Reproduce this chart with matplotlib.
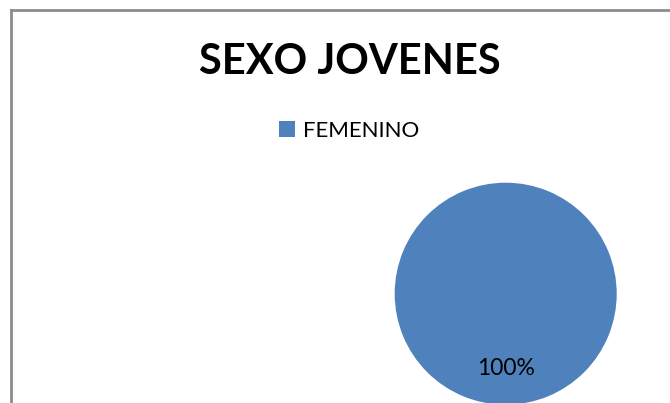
import matplotlib.pyplot as plt
from matplotlib.lines import Line2D

categories = ['FEMENINO']
values = [100]
colors = ['#4F81BD']
title = 'SEXO JOVENES'

W, H = 670, 403
fig = plt.figure(figsize=(W / 100, H / 100), dpi=100)
ax = fig.add_axes([0, 0, 1, 1])

wedges, texts, autotexts = ax.pie(values, colors=colors, radius=111,
                                  center=(505.7, H - 293.7), startangle=90,
                                  autopct='%1.0f%%', pctdistance=0.67,
                                  frame=True, wedgeprops={'linewidth': 0},
                                  textprops={'fontsize': 16.5, 'family': 'Lato'})
ax.set_xlim(0, W)
ax.set_ylim(0, H)
ax.axis('off')

# chart border (left and top only visible)
border = '#8c8c8c'
fig.add_artist(Line2D([11 / W, 11 / W], [0, 1 - 10 / H], color=border, lw=2,
                      transform=fig.transFigure))
fig.add_artist(Line2D([11 / W, 1], [1 - 10 / H, 1 - 10 / H], color=border, lw=2,
                      transform=fig.transFigure))

fig.text(350 / W, 1 - 62 / H, title, ha='center', va='center', fontsize=30,
         fontweight='bold', family='Lato')

ax.legend(wedges, categories, loc='center', bbox_to_anchor=(349 / W, 1 - 131 / H),
          frameon=False, prop={'family': 'Lato', 'size': 16},
          handlelength=0.72, handleheight=0.72, handletextpad=0.35)

fig.savefig('out.png', dpi=100)
